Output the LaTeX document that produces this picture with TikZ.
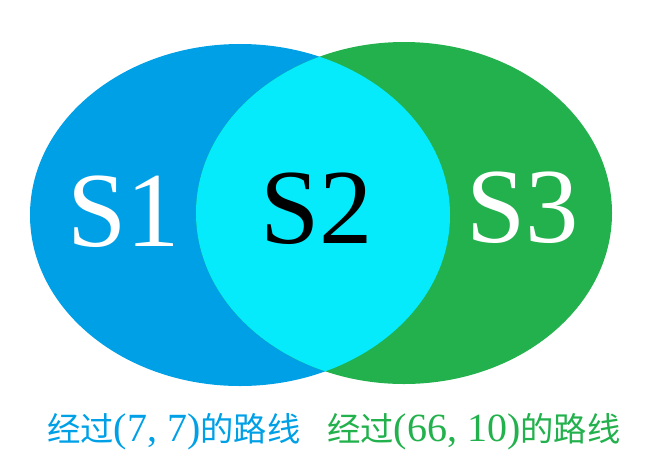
\documentclass[tikz,border=0pt]{standalone}
\usepackage{fontspec}
\setmainfont{Liberation Serif}
\newfontfamily\cjk{Noto Sans CJK SC}
\usetikzlibrary{positioning}
\definecolor{setblue}{HTML}{00A0E6}
\definecolor{setgreen}{HTML}{22B14C}
\definecolor{setcyan}{HTML}{05EBFC}
\newcommand{\coordtext}[1]{{\fontsize{30}{30}\selectfont #1}}

\begin{document}
\begin{tikzpicture}[x=0.75pt, y=-0.75pt,
  setlabel/.style={font=\fontsize{80}{80}\selectfont, inner sep=0pt},
  caption/.style={font=\fontsize{25}{25}\selectfont, inner sep=0pt, anchor=west}
]
\useasboundingbox (0,0) rectangle (645,472);
% the two sets and their overlap
\fill[setblue] (240,215) ellipse [x radius=210, y radius=171];
\fill[setgreen] (404,213) ellipse [x radius=208, y radius=171];
\begin{scope}
  \clip (240,215) ellipse [x radius=210, y radius=171];
  \fill[setcyan] (404,213) ellipse [x radius=208, y radius=171];
\end{scope}
\node[setlabel, text=white] (s1) at (124,212) {S1};
\node[setlabel, text=black] (s2) at (317,209) {S2};
\node[setlabel, text=white] (s3) at (523,208) {S3};
% captions
\node[caption, text=setblue] (c1) at (47,432) {{\cjk 经过}\coordtext{(7,~7)}{\cjk 的路线}};
\node[caption, text=setgreen] (c2) at (327,432) {{\cjk 经过}\coordtext{(66,~10)}{\cjk 的路线}};
\end{tikzpicture}
\end{document}
